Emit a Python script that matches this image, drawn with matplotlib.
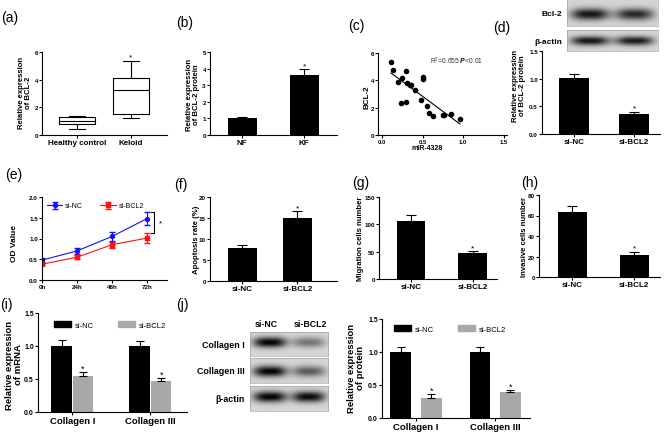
import numpy as np
import matplotlib.pyplot as plt
from matplotlib.patches import Patch

plt.rcParams['font.family'] = ['Liberation Sans', 'DejaVu Sans']
plt.rcParams['font.weight'] = 'bold'

# ---- data ----
# (a) box plot
box_labels = ['Healthy control', 'Keloid']
box_low = [0.44, 1.21]
box_q1 = [0.80, 1.53]
box_med = [1.04, 3.27]
box_q3 = [1.28, 4.12]
box_high = [1.40, 5.33]

# (b)
b_cats = ['NF', 'KF']
b_vals = [1.03, 3.63]
b_errs = [0.07, 0.32]

# (c) scatter
c_x = [0.11, 0.13, 0.20, 0.25, 0.235, 0.30, 0.30, 0.31, 0.34, 0.36, 0.40,
       0.51, 0.51, 0.48, 0.56, 0.58, 0.63, 0.75, 0.76, 0.85, 0.96]
c_y = [5.32, 4.73, 3.86, 4.15, 2.34, 2.39, 4.66, 3.80, 3.66, 3.68, 3.29,
       4.13, 4.22, 2.59, 2.15, 1.64, 1.39, 1.49, 1.43, 1.51, 1.19]

# (d)
si_cats = ['si-NC', 'si-BCL2']
d_vals = [1.01, 0.36]
d_errs = [0.07, 0.04]

# (e) OD values over time
e_times = ['0h', '24h', '48h', '72h']
e_nc = [0.48, 0.70, 1.05, 1.48]
e_nc_err = [0.04, 0.07, 0.10, 0.15]
e_bcl2 = [0.38, 0.55, 0.85, 1.01]
e_bcl2_err = [0.03, 0.05, 0.07, 0.12]

# (f) apoptosis, (g) migration, (h) invasion
f_vals = [7.84, 15.04]
f_errs = [0.72, 1.52]
g_vals = [107, 47]
g_errs = [9.3, 3.8]
h_vals = [63.0, 21.6]
h_errs = [6.6, 2.9]

# (i) mRNA, (j) protein
coll_cats = ['Collagen I', 'Collagen III']
i_nc = [1.00, 1.00]
i_nc_err = [0.09, 0.08]
i_bcl2 = [0.55, 0.47]
i_bcl2_err = [0.06, 0.05]
j_nc = [1.00, 1.00]
j_nc_err = [0.07, 0.07]
j_bcl2 = [0.31, 0.39]
j_bcl2_err = [0.05, 0.035]

# blot band darkness (lane 1, lane 2)
blot_d = {'Bcl-2': [0.78, 0.70], 'β-actin': [0.78, 0.76]}
blot_j = {'Collagen I': [0.85, 0.40], 'Collagen III': [0.85, 0.50], 'β-actin': [0.85, 0.82]}

GRAY = '#a8a8a8'

W, H = 667, 435
fig = plt.figure(figsize=(W / 100, H / 100), dpi=100)


def add_ax(x0, y0, x1, y1):
    return fig.add_axes([x0 / W, 1 - y1 / H, (x1 - x0) / W, (y1 - y0) / H])


def txt(x, y, s, **kw):
    kw.setdefault('ha', 'center')
    kw.setdefault('va', 'center')
    fig.text(x / W, 1 - y / H, s, **kw)


def style(ax, fs=4.5, xfs=5.8):
    for s in ['top', 'right']:
        ax.spines[s].set_visible(False)
    for s in ['left', 'bottom']:
        ax.spines[s].set_linewidth(0.8)
    ax.tick_params(width=0.8, length=2, labelsize=fs, pad=1)
    ax.tick_params(axis='x', labelsize=xfs)


def bars(ax, vals, errs, labels, width=0.47, color='black'):
    x = np.arange(len(vals))
    ax.bar(x, vals, width=width, color=color)
    ax.errorbar(x, vals, yerr=[np.zeros(len(errs)), errs], fmt='none',
                ecolor='black', elinewidth=0.8, capsize=3.5, capthick=0.8)
    ax.set_xticks(x, labels)
    return x


def star(ax, x, y, fs=6):
    ax.text(x, y, '*', ha='center', va='bottom', fontsize=fs, fontweight='normal')


def blot(ax, dark, yc=0.5):
    h, w = 40, 160
    yy, xx = np.mgrid[0:h, 0:w]
    img = np.full((h, w), 0.80)
    img += 0.06 * np.exp(-((yy / h - 0.5) / 0.6) ** 2)
    for c, d in zip([0.25, 0.74], dark):
        g = np.exp(-np.abs((xx / w - c) / 0.21) ** 3 - ((yy / h - yc) / 0.22) ** 2)
        img -= d * g
    ax.imshow(np.clip(img, 0, 1), cmap='gray', vmin=0, vmax=1, aspect='auto')
    ax.set_xticks([])
    ax.set_yticks([])
    for s in ax.spines.values():
        s.set_linewidth(0.4)
        s.set_color('#999999')


# ---- (a) ----
ax = add_ax(42, 53, 167, 136)
stats = [dict(whislo=lo, q1=a, med=m, q3=b, whishi=hi, fliers=[])
         for lo, a, m, b, hi in zip(box_low, box_q1, box_med, box_q3, box_high)]
ax.bxp(stats, positions=[0, 1], widths=0.66, capwidths=0.3, showfliers=False,
       boxprops=dict(linewidth=0.8), medianprops=dict(color='black', linewidth=0.8),
       whiskerprops=dict(linewidth=0.8), capprops=dict(linewidth=0.8))
ax.set_xticks([0, 1], box_labels)
ax.set_xlim(-0.65, 1.67)
ax.set_ylim(0, 6)
ax.set_yticks([0, 2, 4, 6])
style(ax)
star(ax, 1, box_high[1] + 0.05)

# ---- (b) ----
ax = add_ax(210, 53, 337, 136)
x = bars(ax, b_vals, b_errs, b_cats)
ax.set_xlim(-0.52, 1.53)
ax.set_ylim(0, 5)
style(ax)
star(ax, 1, b_vals[1] + b_errs[1] + 0.02)

# ---- (c) ----
ax = add_ax(378, 54, 507, 136)
ax.scatter(c_x, c_y, s=9, color='black', zorder=3)
k, b0 = np.polyfit(c_x, c_y, 1)
lx = np.array([min(c_x), max(c_x)])
ax.plot(lx, k * lx + b0, color='black', lw=0.8)
ax.set_xlim(-0.05, 1.54)
ax.set_ylim(0, 6)
ax.set_xticks([0, 0.5, 1.0, 1.5], ['0.0', '0.5', '1.0', '1.5'])
ax.set_yticks([0, 2, 4, 6])
style(ax, xfs=4.2)
txt(457, 61, '$\\mathregular{R^2}$=0.655 $\\it{P}$<0.01', fontsize=4.8,
    fontweight='normal', color='#333333')

# ---- (d) ----
ax = add_ax(542, 52, 660, 135)
x = bars(ax, d_vals, d_errs, si_cats, width=0.5)
ax.set_xlim(-0.53, 1.43)
ax.set_ylim(0, 1.5)
ax.set_yticks([0, 0.5, 1.0, 1.5], ['0.0', '0.5', '1.0', '1.5'])
style(ax)
star(ax, 1, d_vals[1] + d_errs[1] + 0.005)
for (name, dark), (y0, y1), yc in zip(blot_d.items(), [(0, 27), (31, 52)], [0.55, 0.5]):
    blot(add_ax(567, y0, 658, y1), dark, yc)
    txt(562, (y0 + y1) / 2 + 1, name, fontsize=6, ha='right')

# ---- (e) ----
ax = add_ax(42, 198, 167, 281)
t = np.arange(len(e_times))
ax.errorbar(t, e_nc, yerr=e_nc_err, color='#1010ff', marker='o', ms=2.8,
            lw=0.8, elinewidth=0.8, capsize=2, label='si-NC')
ax.errorbar(t, e_bcl2, yerr=e_bcl2_err, color='#ff1010', marker='s', ms=2.8,
            lw=0.8, elinewidth=0.8, capsize=2, label='si-BCL2')
top = e_nc[-1] + e_nc_err[-1]
bot = e_bcl2[-1] + e_bcl2_err[-1]
ax.plot([3.12, 3.2, 3.2, 3.12], [top, top, bot, bot], color='black', lw=0.8)
ax.text(3.38, (top + bot) / 2, '*', fontsize=6, ha='center', va='center', fontweight='normal')
ax.set_xticks(t, e_times)
ax.set_xlim(0, 3.57)
ax.set_ylim(0, 2)
ax.set_yticks([0, 0.5, 1.0, 1.5, 2.0], ['0.0', '0.5', '1.0', '1.5', '2.0'])
style(ax, xfs=4.5)
ax.legend(loc='center left', bbox_to_anchor=(47 / W, 1 - 207 / H), bbox_transform=fig.transFigure,
          ncol=2, frameon=False, prop=dict(size=5, weight='normal'),
          handlelength=2.2, handletextpad=0.4, columnspacing=2.5, borderpad=0, borderaxespad=0)

# ---- (f) ----
ax = add_ax(210, 198, 337, 282)
bars(ax, f_vals, f_errs, si_cats, width=0.53)
ax.set_xlim(-0.59, 1.72)
ax.set_ylim(0, 20)
style(ax)
star(ax, 1, f_vals[1] + f_errs[1] + 0.1)

# ---- (g) ----
ax = add_ax(379, 198, 497, 280)
bars(ax, g_vals, g_errs, si_cats, width=0.46)
ax.set_xlim(-0.53, 1.40)
ax.set_ylim(0, 150)
ax.set_yticks([0, 50, 100, 150])
style(ax)
star(ax, 1, g_vals[1] + g_errs[1] + 0.5)

# ---- (h) ----
ax = add_ax(539, 196, 660, 278)
bars(ax, h_vals, h_errs, si_cats, width=0.47)
ax.set_xlim(-0.54, 1.42)
ax.set_ylim(0, 80)
ax.set_yticks([0, 20, 40, 60, 80])
style(ax)
star(ax, 1, h_vals[1] + h_errs[1] + 0.3)


# ---- (i) and (j) grouped bars ----
def grouped(ax, nc, nce, bc, bce, off, lx, ly):
    x = np.arange(len(coll_cats))
    ax.bar(x - off, nc, width=0.26, color='black')
    ax.bar(x + off, bc, width=0.26, color=GRAY)
    ax.errorbar(x - off, nc, yerr=[np.zeros(2), nce], fmt='none', ecolor='black',
                elinewidth=0.8, capsize=3, capthick=0.8)
    ax.errorbar(x + off, bc, yerr=[np.zeros(2), bce], fmt='none', ecolor='black',
                elinewidth=0.8, capsize=3, capthick=0.8)
    for xi, v, e in zip(x + off, bc, bce):
        star(ax, xi, v + e - 0.01, fs=6.5)
    ax.set_xticks(x, coll_cats)
    ax.set_ylim(0, 1.5)
    ax.set_yticks([0, 0.5, 1.0, 1.5], ['0.0', '0.5', '1.0', '1.5'])
    style(ax, fs=5, xfs=6.8)
    handles = [Patch(color='black'), Patch(color=GRAY)]
    ax.legend(handles, ['si-NC', 'si-BCL2'], loc='center left',
              bbox_to_anchor=(lx / W, 1 - ly / H), bbox_transform=fig.transFigure,
              ncol=2, frameon=False, prop=dict(size=5.5, weight='normal'),
              handlelength=2.2, handleheight=0.9, handletextpad=0.5,
              columnspacing=3.2, borderpad=0, borderaxespad=0)


ax = add_ax(38, 314, 187, 413)
grouped(ax, i_nc, i_nc_err, i_bcl2, i_bcl2_err, 0.138, 54, 326)
ax.set_xlim(-0.44, 1.47)

ax = add_ax(382, 320, 530, 419)
grouped(ax, j_nc, j_nc_err, j_bcl2, j_bcl2_err, 0.193, 394, 330)
ax.set_xlim(-0.43, 1.44)

for (name, dark), (y0, y1), yc in zip(blot_j.items(), [(333, 357), (359, 384), (387, 412)],
                                      [0.42, 0.52, 0.42]):
    blot(add_ax(250, y0, 328, y1), dark, yc)
    txt(245, (y0 + y1) / 2, name, fontsize=6.4, ha='right')
txt(266, 325, 'si-NC', fontsize=6.3)
txt(310, 325, 'si-BCL2', fontsize=6.3)

# ---- axis titles ----
txt(25, 93, 'Relative expression\nof BCL-2', fontsize=5.6, rotation=90, linespacing=1.0)
txt(193, 95, 'Relative expression\nof BCL-2 protein', fontsize=5.6, rotation=90, linespacing=1.0)
txt(367, 97, 'BCL-2', fontsize=5.8, rotation=90)
txt(427, 149, 'miR-4328', fontsize=5)
txt(519, 86, 'Relative expression\nof BCL-2 protein', fontsize=5.6, rotation=90, linespacing=1.0)
txt(15, 243, 'OD Value', fontsize=6, rotation=90)
txt(196, 240, 'Apoptosis rate (%)', fontsize=5.6, rotation=90)
txt(361, 239, 'Migration cells number', fontsize=5.6, rotation=90)
txt(524, 237, 'Invasive cells number', fontsize=5.6, rotation=90)
txt(14, 365, 'Relative expression\nof mRNA', fontsize=6.8, rotation=90, linespacing=1.0)
txt(356, 368, 'Relative expression\nof protein', fontsize=6.8, rotation=90, linespacing=1.0)

# ---- panel letters ----
for s, px, py in [('(a)', 10, 18), ('(b)', 185, 23), ('(c)', 356, 26), ('(d)', 502, 28),
                  ('(e)', 14, 175), ('(f)', 181, 185), ('(g)', 361, 183), ('(h)', 530, 183),
                  ('(i)', 6, 305), ('(j)', 182, 305)]:
    txt(px, py, s, fontsize=10, fontweight='normal')

fig.savefig('out.png', dpi=100, facecolor='white')
